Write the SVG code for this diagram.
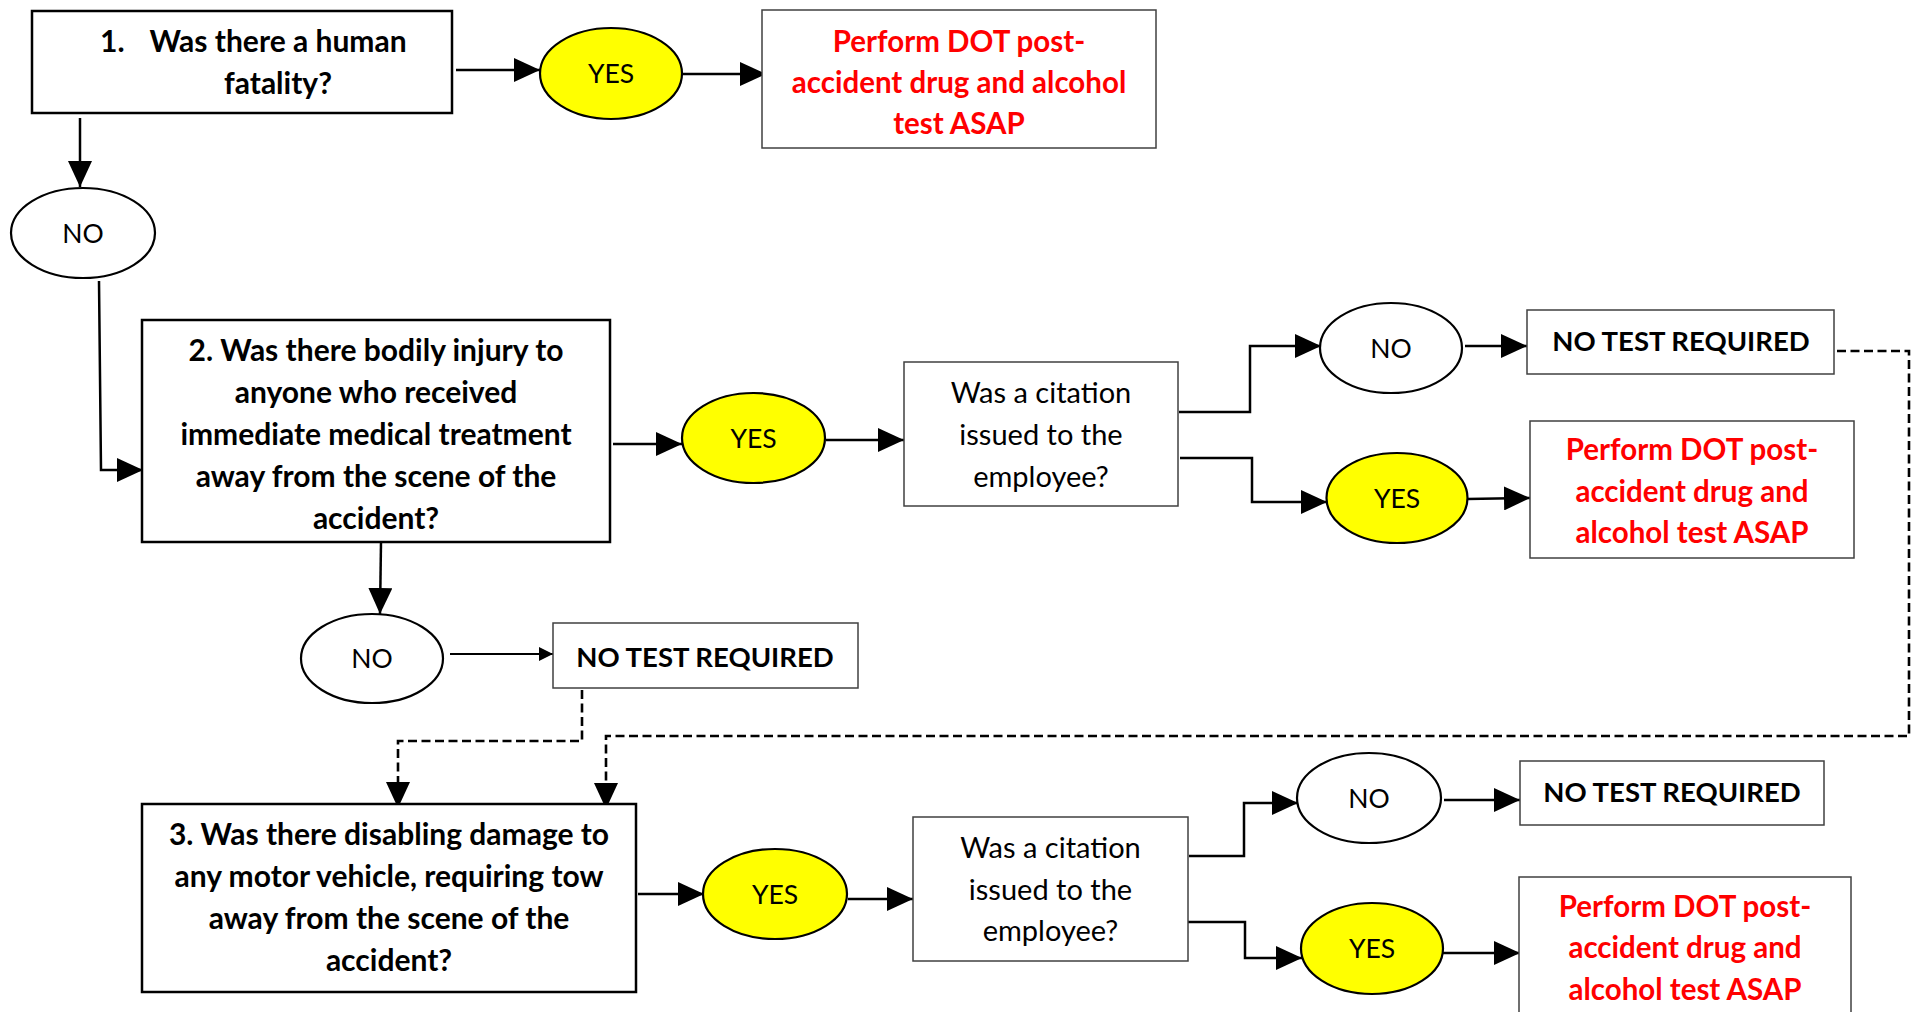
<svg xmlns="http://www.w3.org/2000/svg" width="1917" height="1012" viewBox="0 0 1917 1012">
<defs>
<style>
.q{fill:#fff;stroke:#000;stroke-width:2.5}
.r{fill:#fff;stroke:#404040;stroke-width:1.5}
.ey{fill:#ffff00;stroke:#000;stroke-width:2.2}
.en{fill:#fff;stroke:#000;stroke-width:2.2}
text{font-family:Lato,"Liberation Sans",sans-serif;font-size:29px;text-anchor:middle;fill:#000}
.b{font-weight:bold;font-size:30px}
.nt{font-weight:bold;font-size:27.5px}
.o{font-size:26.5px}
.red{fill:#ff0000;font-weight:bold;font-size:29.5px}
.c{fill:none;stroke:#000;stroke-width:2.5}
.d{fill:none;stroke:#000;stroke-width:2.6;stroke-dasharray:9 4.5}
.t{fill:none;stroke:#000;stroke-width:1.8}
</style>
<marker id="ah" markerUnits="userSpaceOnUse" markerWidth="26" markerHeight="24" refX="26" refY="12" orient="auto">
<path d="M0,0 L26,12 L0,24 z" fill="#000"/>
</marker>
<marker id="as" markerUnits="userSpaceOnUse" markerWidth="14" markerHeight="14" refX="14" refY="7" orient="auto">
<path d="M0,0 L14,7 L0,14 z" fill="#000"/>
</marker>
</defs>

<g id="connectors">
<path class="c" d="M456,70 L540,70" marker-end="url(#ah)"/>
<path class="c" d="M682,74 L766,74" marker-end="url(#ah)"/>
<path class="c" d="M80,118 L80,187" marker-end="url(#ah)"/>
<path class="c" d="M99,281 L101,470 L143,470" marker-end="url(#ah)"/>
<path class="c" d="M613,444 L682,444" marker-end="url(#ah)"/>
<path class="c" d="M826,440 L904,440" marker-end="url(#ah)"/>
<path class="c" d="M381,542 L380,614" marker-end="url(#ah)"/>
<path class="t" d="M450,654 L553,654" marker-end="url(#as)"/>
<path class="c" d="M1179,412 L1250,412 L1250,346 L1321,346" marker-end="url(#ah)"/>
<path class="c" d="M1180,458 L1252,458 L1252,502 L1327,502" marker-end="url(#ah)"/>
<path class="c" d="M1465,346 L1527,346" marker-end="url(#ah)"/>
<path class="c" d="M1467,499 L1530,498" marker-end="url(#ah)"/>
<path class="d" d="M582,690 L582,741 L398,741 L398,784"/>
<path class="c" d="M398,784 L398,808" stroke-width="1" marker-end="url(#ah)"/>
<path class="d" d="M1837,351 L1909,351 L1909,736 L606,736 L606,785"/>
<path class="c" d="M606,785 L606,809" stroke-width="1" marker-end="url(#ah)"/>
<path class="c" d="M638,894 L704,894" marker-end="url(#ah)"/>
<path class="c" d="M848,899 L913,899" marker-end="url(#ah)"/>
<path class="c" d="M1189,856 L1244,856 L1244,803 L1298,803" marker-end="url(#ah)"/>
<path class="c" d="M1188,922 L1245,922 L1245,958 L1302,958" marker-end="url(#ah)"/>
<path class="c" d="M1444,800 L1520,800" marker-end="url(#ah)"/>
<path class="c" d="M1443,953 L1520,953" marker-end="url(#ah)"/>
</g>

<g id="q1">
<rect class="q" x="32" y="11" width="420" height="102"/>
<text class="b" x="100" y="52" style="text-anchor:start">1.</text>
<text class="b" x="278" y="52">Was there a human</text>
<text class="b" x="278" y="94">fatality?</text>
</g>
<g id="yes1">
<ellipse class="ey" cx="611" cy="73.5" rx="71" ry="45.5"/>
<text class="o" x="611" y="83">YES</text>
</g>
<g id="test1">
<rect class="r" x="762" y="10" width="394" height="138"/>
<text class="red" x="959" y="52">Perform DOT post-</text>
<text class="red" x="959" y="93">accident drug and alcohol</text>
<text class="red" x="959" y="134">test ASAP</text>
</g>
<g id="no1">
<ellipse class="en" cx="83" cy="233" rx="72" ry="45"/>
<text class="o" x="83" y="243">NO</text>
</g>

<g id="q2">
<rect class="q" x="142" y="320" width="468" height="222"/>
<text class="b" x="376" y="361">2. Was there bodily injury to</text>
<text class="b" x="376" y="403">anyone who received</text>
<text class="b" x="376" y="445">immediate medical treatment</text>
<text class="b" x="376" y="487">away from the scene of the</text>
<text class="b" x="376" y="529">accident?</text>
</g>
<g id="yes2">
<ellipse class="ey" cx="753.5" cy="438" rx="71.5" ry="45"/>
<text class="o" x="753.5" y="448">YES</text>
</g>
<g id="cite1">
<rect class="r" x="904" y="362" width="274" height="144"/>
<text x="1041" y="403">Was a citation</text>
<text x="1041" y="445">issued to the</text>
<text x="1041" y="487">employee?</text>
</g>
<g id="no_c1">
<ellipse class="en" cx="1391" cy="348" rx="71" ry="45"/>
<text class="o" x="1391" y="358">NO</text>
</g>
<g id="ntr1">
<rect class="r" x="1527" y="310" width="307" height="64"/>
<text class="nt" x="1681" y="351">NO TEST REQUIRED</text>
</g>
<g id="yes_c1">
<ellipse class="ey" cx="1397" cy="498" rx="70.5" ry="45"/>
<text class="o" x="1397" y="508">YES</text>
</g>
<g id="test2">
<rect class="r" x="1530" y="421" width="324" height="137"/>
<text class="red" x="1692" y="460">Perform DOT post-</text>
<text class="red" x="1692" y="501.5">accident drug and</text>
<text class="red" x="1692" y="543">alcohol test ASAP</text>
</g>

<g id="no2">
<ellipse class="en" cx="372" cy="658.5" rx="71" ry="44.5"/>
<text class="o" x="372" y="668">NO</text>
</g>
<g id="ntr2">
<rect class="r" x="553" y="623" width="305" height="65"/>
<text class="nt" x="705" y="667">NO TEST REQUIRED</text>
</g>

<g id="q3">
<rect class="q" x="142" y="804" width="494" height="188"/>
<text class="b" x="389" y="845">3. Was there disabling damage to</text>
<text class="b" x="389" y="887">any motor vehicle, requiring tow</text>
<text class="b" x="389" y="929">away from the scene of the</text>
<text class="b" x="389" y="971">accident?</text>
</g>
<g id="yes3">
<ellipse class="ey" cx="775" cy="894" rx="72" ry="45"/>
<text class="o" x="775" y="904">YES</text>
</g>
<g id="cite2">
<rect class="r" x="913" y="817" width="275" height="144"/>
<text x="1050.5" y="858">Was a citation</text>
<text x="1050.5" y="899.5">issued to the</text>
<text x="1050.5" y="941">employee?</text>
</g>
<g id="no_c2">
<ellipse class="en" cx="1369" cy="798" rx="72" ry="45"/>
<text class="o" x="1369" y="808">NO</text>
</g>
<g id="ntr3">
<rect class="r" x="1520" y="761" width="304" height="64"/>
<text class="nt" x="1672" y="802">NO TEST REQUIRED</text>
</g>
<g id="yes_c2">
<ellipse class="ey" cx="1372" cy="948.5" rx="71" ry="45.5"/>
<text class="o" x="1372" y="958">YES</text>
</g>
<g id="test3">
<rect class="r" x="1519" y="877" width="332" height="140"/>
<text class="red" x="1685" y="917">Perform DOT post-</text>
<text class="red" x="1685" y="958">accident drug and</text>
<text class="red" x="1685" y="1000">alcohol test ASAP</text>
</g>
</svg>
